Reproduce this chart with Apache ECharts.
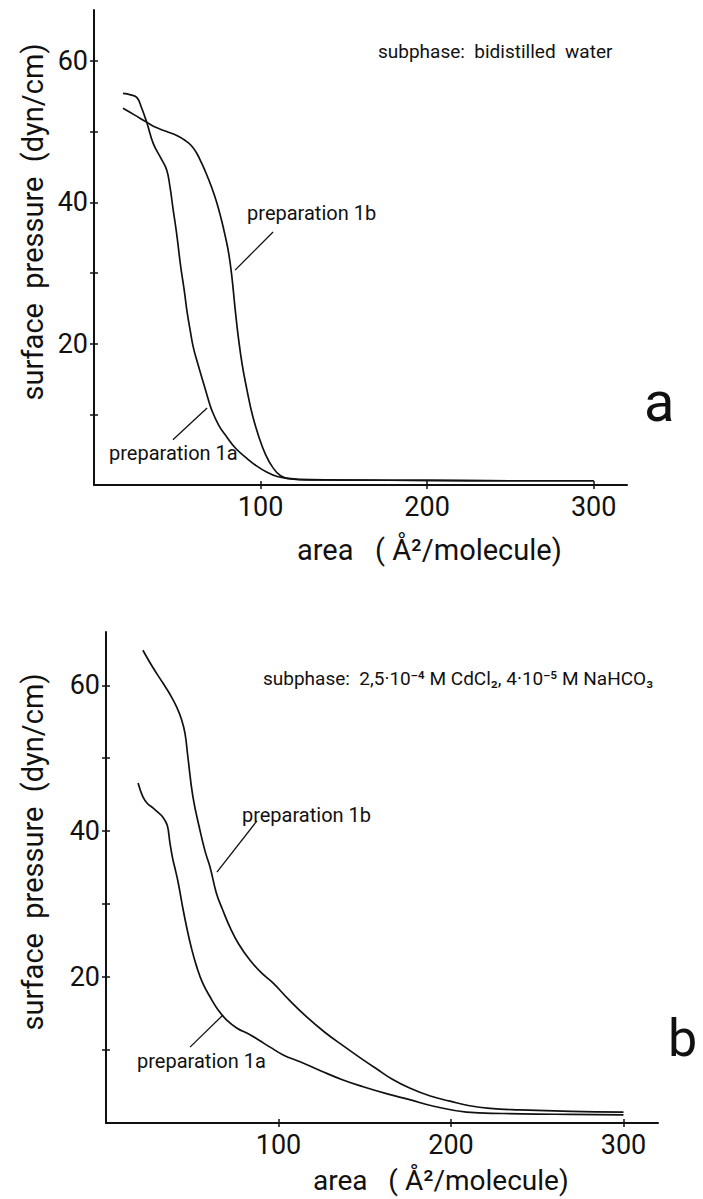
<!DOCTYPE html>
<html>
<head>
<meta charset="utf-8">
<script src="https://cdn.jsdelivr.net/npm/echarts@6/dist/echarts.min.js"></script>
<style>
  html, body { margin: 0; padding: 0; background: #fff; }
  #chart { width: 703px; height: 1199px; }
</style>
</head>
<body>
<div id="chart"></div>
<script>
// Surface pressure / area isotherms of preparations 1a and 1b on two subphases.

// Axis ticks
const areaTicks = [100, 200, 300];
const pressureTicks = [10, 20, 30, 40, 50, 60];
const pressureLabels = [20, 40, 60];

// Panel a: subphase bidistilled water — [area Å²/molecule, pressure dyn/cm]
const waterPrep1a = [
  [17.4, 55.4], [22, 55.2], [25.8, 54.8], [28.5, 53.4], [31.8, 51.2], [35.6, 48.3],
  [40, 46.3], [43.6, 44.6], [45.6, 42.2], [47.5, 39], [49.6, 35.6], [52, 31],
  [54.2, 27.5], [56, 24.3], [57.8, 21.8], [59.6, 19.5], [62.5, 17.0], [65.5, 14.6],
  [68, 12.6], [70.7, 10.6], [75, 8.4], [79.7, 6.8], [85, 5.2], [91.6, 3.8],
  [97, 2.8], [103.9, 1.8], [110, 1.2], [116, 0.95], [130, 0.75], [160, 0.7],
  [200, 0.65], [250, 0.6], [300, 0.6]
];
const waterPrep1b = [
  [17.4, 53.3], [24, 52.4], [31.8, 51.3], [37, 50.6], [43.6, 50.0], [50, 49.4],
  [55, 48.7], [58.5, 48.0], [61.5, 47.0], [64.5, 45.6], [67.5, 44.0], [70.5, 42.2],
  [73.5, 40.1], [76.2, 37.8], [78.8, 35.2], [81, 32.6], [82.9, 29.2], [84.6, 25.2],
  [86.6, 21], [89, 17], [91.8, 13.5], [95, 10], [99, 6.8], [103, 4.3],
  [107, 2.6], [112, 1.3], [118, 0.85], [130, 0.72], [150, 0.7], [200, 0.65],
  [250, 0.6], [300, 0.6]
];

// Panel b: subphase 2,5·10⁻⁴ M CdCl₂, 4·10⁻⁵ M NaHCO₃
const cadmiumPrep1a = [
  [18.6, 46.6], [21.4, 44.7], [24, 43.8], [27.2, 43.2], [30, 42.6], [33, 41.9],
  [35.5, 40.8], [37, 38.5], [38.6, 36.3], [40.3, 34.6], [41.9, 32.9], [44.5, 29.5],
  [46.8, 26.8], [49.5, 24], [52.6, 21.4], [56, 19.2], [60.3, 17.3], [65, 15.5],
  [70, 14.1], [76, 13], [83.5, 12.1], [89, 11.3], [95.1, 10.4], [103, 9.3],
  [112.5, 8.4], [125, 7.1], [137.4, 5.9], [150, 4.9], [163, 4], [176, 3.2],
  [190, 2.3], [209, 1.5], [230, 1.3], [260, 1.2], [300, 1.1]
];
const cadmiumPrep1b = [
  [21.4, 64.8], [27, 62.5], [33, 60.3], [37, 58.8], [41, 57], [43.8, 55.3],
  [45.8, 53.4], [47.5, 50.1], [50.4, 44.7], [54.5, 40.1], [57.5, 37.2], [60.3, 35.1],
  [64, 31.5], [67.5, 29.3], [71.9, 26.8], [77, 24.5], [83.5, 22.3], [90, 20.6],
  [96.8, 19.2], [106, 16.9], [116.5, 14.5], [127, 12.4], [137.4, 10.6], [147, 9],
  [157, 7.4], [166, 6], [176, 4.8], [188, 3.7], [199.4, 3.0], [210, 2.4],
  [222.6, 2.0], [240, 1.8], [270, 1.6], [300, 1.5]
];

// Curve labels: text anchor and leader line, in data coordinates
const waterNotes = [
  { text: 'preparation 1b', at: [91.9, 38.5], leader: [[107.5, 35.8], [84.7, 30.4]] },
  { text: 'preparation 1a', at: [9.0, 4.5], leader: [[47.4, 6.4], [67.9, 10.9]] }
];
const cadmiumNotes = [
  { text: 'preparation 1b', at: [78.8, 42.2], leader: [[87.5, 41.4], [64.3, 34.4]] },
  { text: 'preparation 1a', at: [18.0, 8.5], leader: [[48.7, 10.4], [67.8, 14.8]] }
];

const FONT = "Roboto, 'DejaVu Sans', sans-serif";
const INK = '#111';

function xAxes(grid) {
  const base = {
    gridIndex: grid, type: 'value', min: 0, max: 320, position: 'bottom',
    splitLine: { show: false }
  };
  return [
    Object.assign({}, base, {
      axisLine: { show: true, lineStyle: { color: INK, width: 2 } },
      axisTick: { show: true, inside: false, length: 4, customValues: areaTicks,
                  lineStyle: { color: INK, width: 1.5 } },
      axisLabel: { show: true, customValues: areaTicks, margin: 8,
                   color: INK, fontFamily: FONT, fontSize: 27 }
    }),
    Object.assign({}, base, {
      axisLine: { show: false },
      axisTick: { show: true, inside: true, length: 4, customValues: areaTicks,
                  lineStyle: { color: INK, width: 1.5 } },
      axisLabel: { show: false }
    })
  ];
}

function yAxes(grid, max) {
  const base = {
    gridIndex: grid, type: 'value', min: 0, max: max, position: 'left', offset: 0,
    splitLine: { show: false }
  };
  return [
    Object.assign({}, base, {
      axisLine: { show: true, lineStyle: { color: INK, width: 2 } },
      axisTick: { show: true, inside: false, length: 4, customValues: pressureTicks,
                  lineStyle: { color: INK, width: 1.5 } },
      axisLabel: { show: true, customValues: pressureLabels, margin: 6,
                   color: INK, fontFamily: FONT, fontSize: 27 }
    }),
    Object.assign({}, base, {
      axisLine: { show: false },
      axisTick: { show: true, inside: true, length: 4, customValues: pressureTicks,
                  lineStyle: { color: INK, width: 1.5 } },
      axisLabel: { show: false }
    })
  ];
}

function curve(data, xi, yi, note) {
  const s = {
    type: 'line', data: data, xAxisIndex: xi, yAxisIndex: yi,
    showSymbol: false, smooth: 0.45,
    lineStyle: { color: INK, width: 1.7 }, silent: true
  };
  if (note) {
    s.markLine = {
      silent: true, symbol: ['none', 'none'], label: { show: false },
      lineStyle: { color: INK, width: 1.3, type: 'solid' },
      data: [[{ coord: note.leader[0] }, { coord: note.leader[1] }]]
    };
    s.markPoint = {
      silent: true, symbol: 'circle', symbolSize: 0,
      data: [{
        coord: note.at,
        label: { show: true, position: 'right', distance: 0, formatter: note.text,
                 color: INK, fontFamily: FONT, fontSize: 20 }
      }]
    };
  }
  return s;
}

function textItem(x, y, text, size, rotated) {
  const item = {
    type: 'text', x: x, y: y,
    style: { text: text, fill: INK, font: size + 'px ' + FONT,
             textAlign: rotated ? 'center' : 'left', textVerticalAlign: 'middle' }
  };
  if (rotated) item.rotation = Math.PI / 2;
  return item;
}

const chart = echarts.init(document.getElementById('chart'), null, { renderer: 'svg' });

chart.setOption({
  animation: false,
  backgroundColor: '#fff',
  grid: [
    { left: 94, top: 10, width: 533, height: 475, containLabel: false, outerBoundsMode: 'none' },
    { left: 106, top: 632, width: 552, height: 491, containLabel: false, outerBoundsMode: 'none' }
  ],
  xAxis: [].concat(xAxes(0), xAxes(1)),
  yAxis: [].concat(yAxes(0, 67.2), yAxes(1, 67.3)),
  series: [
    curve(waterPrep1a, 0, 0, waterNotes[1]),
    curve(waterPrep1b, 0, 0, waterNotes[0]),
    curve(cadmiumPrep1a, 2, 2, cadmiumNotes[1]),
    curve(cadmiumPrep1b, 2, 2, cadmiumNotes[0])
  ],
  graphic: [
    // axis titles
    textItem(33, 222, 'surface  pressure  (dyn/cm)', 29, true),
    textItem(297, 550, 'area   ( Å²/molecule)', 29),
    textItem(33, 852, 'surface  pressure  (dyn/cm)', 29, true),
    textItem(313, 1180, 'area   ( Å²/molecule)', 28),
    // subphase notes
    textItem(378, 51, 'subphase:  bidistilled  water', 19),
    textItem(263, 678, 'subphase:  2,5·10⁻⁴ M CdCl₂, 4·10⁻⁵ M NaHCO₃', 19),
    // panel letters
    textItem(644, 402, 'a', 56),
    textItem(668, 1038, 'b', 52)
  ]
});
</script>
</body>
</html>
